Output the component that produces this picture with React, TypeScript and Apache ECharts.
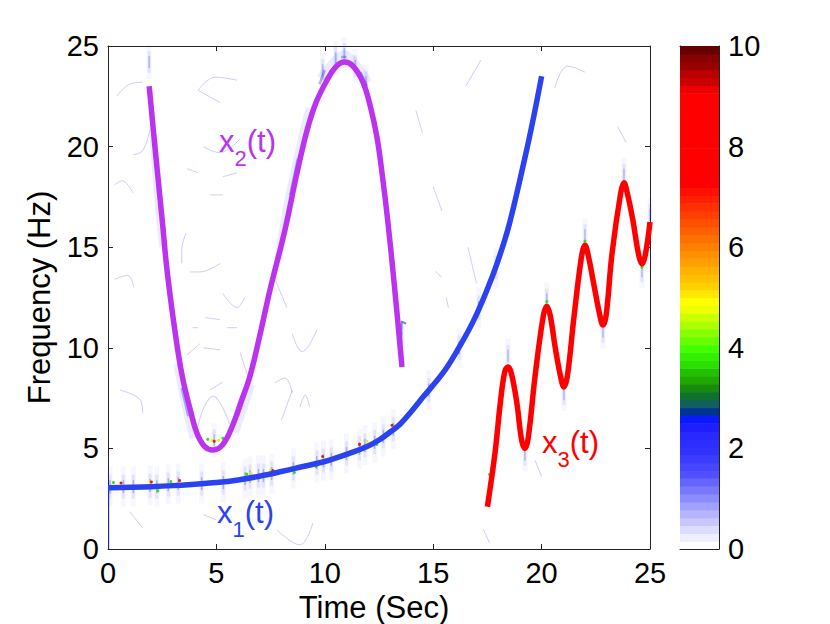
import React, { useEffect, useRef } from "react";
import * as echarts from "echarts";

const x1Curve = [[0,3.05],[1,3.07],[2,3.1],[3,3.15],[4,3.22],[5,3.3],[6,3.43],[7,3.62],[8,3.85],[9,4.1],[10,4.35],[11,4.7],[12,5.12],[12.55,5.45],[13,5.8],[13.47,6.2],[14,6.85],[14.53,7.55],[15.45,8.75],[16.1,9.85],[16.84,11.3],[17.48,12.87],[18,14.36],[18.5,16.1],[19.2,19.3],[19.6,21.3],[20,23.5]];
const x2Curve = [[1.9,23],[2.2,19.6],[2.5,16.35],[2.75,13.6],[3.2,10],[3.46,8.4],[3.8,6.9],[4.1,5.76],[4.45,5.1],[4.84,4.92],[5.3,5.2],[5.77,6.2],[6.1,7.2],[6.55,8.6],[7,10.6],[7.47,12.87],[8.16,15.85],[8.7,18.6],[9.18,20.8],[9.6,22.2],[10.1,23.3],[10.5,23.95],[10.9,24.2],[11.3,24],[11.76,23.2],[12.1,22],[12.4,20.5],[12.65,18.6],[12.9,16.35],[13.2,13.2],[13.56,9.05]];
const x3Curve = [[17.5,2.1],[17.85,4.77],[18.1,7.3],[18.3,8.8],[18.45,9.05],[18.6,8.75],[18.86,7.25],[19.08,5.4],[19.23,5],[19.38,5.5],[19.7,8.6],[20.08,11.6],[20.24,12.07],[20.4,11.6],[20.63,10],[20.87,8.6],[21.03,8.05],[21.19,8.6],[21.5,11.6],[21.85,14.6],[22,15.1],[22.15,14.6],[22.4,13.2],[22.68,11.65],[22.83,11.13],[22.98,11.65],[23.25,14.7],[23.65,17.7],[23.8,18.2],[23.95,17.7],[24.2,16.4],[24.48,14.6],[24.63,14.17],[24.78,14.6],[25,16.25]];

const x2Halos = [
  [[2.1,20.6],[2.3,17.6],[2.55,15]],
  [[3.2,9.2],[3.55,7.3],[3.95,5.5]],
  [[5.85,5.8],[6.25,7],[6.6,8.2]],
  [[7.85,14.4],[8.3,17.2],[8.95,20.4],[9.3,21.9]],
  [[9.8,23.4],[10.9,24.6],[12,23.2]],
];
const x2DarkSpots = [
  [[3.4,8],[3.7,6.6]],
  [[6,6.6],[6.3,7.6]],
  [[8.4,17.6],[8.75,19.4]],
  [[9.75,23.1],[10,23.8]],
  [[10.75,24.45],[11,24.45]],
  [[11.65,23.7],[11.95,23]],
];
const cupTrace = [[4.15,6.1],[4.45,7.1],[4.85,7.6],[5.3,7],[5.6,6.2]];

const faintTraces = [
  [[0.4,22.5],[1,23.1],[1.6,23.2]],
  [[1.15,19.6],[1.6,19.8],[1.95,20.9]],
  [[4.15,22.8],[4.95,23.45],[5.95,23.3]],
  [[4.15,22.8],[5.15,22.2]],
  [[0.3,18.1],[0.65,18.3],[1.15,17.7]],
  [[3.65,18.9],[4.15,18.7]],
  [[5.3,18.5],[5.95,18.7]],
  [[4.7,17.6],[5.3,17.6]],
  [[4.4,20],[5.15,19.7],[6.1,20.4]],
  [[1,1.85],[1.6,1.05]],
  [[4.4,1.7],[5,1.45]],
  [[7.8,0.95],[8.85,0.2],[9.45,1.3]],
  [[8,6.4],[8.5,7.9]],
  [[0.55,7.9],[1.5,7.4],[1.6,6.75]],
  [[0.3,13.4],[0.9,13.6],[1.2,13]],
  [[3.78,13.77],[4.24,13.77],[5.17,14.2]],
  [[3.4,14.2],[3.4,14.85],[3.6,15.7]],
  [[5.3,12.7],[5.95,12],[6.3,12.5]],
  [[3.9,11],[4.15,11]],
  [[4.4,10],[5.17,9.9]],
  [[3.64,9.65],[4.24,10.2]],
  [[4.47,11.5],[5.17,11.4]],
  [[5.5,11],[5.95,11]],
  [[6.1,9.75],[6.46,8.55]],
  [[4.7,7.9],[5.3,8.3]],
  [[7.7,13.4],[8.25,12]],
  [[8.5,10.7],[8.95,9.8],[9.64,10.9]],
  [[7.7,8.25],[8.16,8.5],[8.5,7.75]],
  [[8.85,7.05],[9.1,7.65],[9.3,7.05]],
  [[15.1,13.8],[15.4,13.5]],
  [[15.6,12.5],[15.7,12]],
  [[14.2,21.8],[14.5,20.7]],
  [[16.5,23],[17.2,24.3]],
  [[16.6,15],[17,13.2]],
  [[15,18],[15.4,16.8]],
  [[20.6,22.9],[21.2,24],[22,23.7]],
  [[23.5,21],[23.9,20.2]],
  [[19.7,4.4],[20,3.6]],
  [[17.3,1],[17.6,0.3]],
];
const x2EndTrace = [[13.5,10.3],[13.55,11.3],[13.75,11.2]];
const edgeTrace = [[0.03,0],[0.03,3]];

const x1Spikes = [[0.09,3.1],[0.71,3.1],[1.17,3.1],[1.94,3.15],[2.25,3.1],[2.78,3.2],[3.24,3.25],[4.32,3.25],[5.32,3.3],[6.32,3.5],[6.55,3.6],[6.94,3.65],[7.17,3.65],[7.55,3.75],[8.55,4],[9.63,4.3],[9.94,4.4],[10.3,4.45],[11,4.75],[11.6,5],[11.85,5.15],[12.3,5.3],[12.7,5.6],[13.16,5.95],[14.8,7.9],[16.2,10],[17.1,12],[17.9,14]];
const otherSpikes = [[1.9,24.2],[4.9,5.4],[9.9,23.8],[10.5,24.4],[10.9,24.6],[11.4,24],[11.9,23.2],[13.56,10.5],[17.6,2.8],[18.45,9.6],[19.23,4.7],[20.24,12.4],[21.03,7.7],[22,15.6],[22.83,10.8],[23.8,18.6],[24.63,13.8],[25,16.6]];
const hotSpotsRed = [[0.6,3.28],[2,3.33],[3.3,3.4],[7.6,3.9],[9.9,4.6],[11.6,5.2],[13.1,6.15],[4.9,5.35]];
const hotSpotsYellow = [[1.95,3.3],[6.6,3.75],[7.5,3.92],[10.3,4.55],[11.95,5.35],[4.8,5.4],[5.1,5.4]];
const hotSpotsGreen = [[0.25,3.3],[2.3,2.9],[2.9,3.35],[6.4,3.72],[8.6,3.8],[9.6,4.1],[12.4,5.2],[4.6,5.45],[5.3,5.5],[17.6,3.7],[20.24,12.3],[22,15.3],[23.8,17.8],[24.63,14]];

const xTicks = [0, 5, 10, 15, 20, 25];
const colorbarColors = [
  "#ffffff","#eeeeff","#dcdcff","#c8c8ff","#b4b4ff","#a0a0ff","#8c8cff","#7878ff",
  "#6464ff","#5050ff","#4646ff","#3c3cff","#3232ff","#2d2dff","#2828ff","#1e1eff",
  "#0a1aff","#003399","#106060","#107030","#188a10","#1fa800","#22c000","#2be000",
  "#33f000","#44ff00","#66ff00","#88ff00","#aaff00","#ccff00","#eeff00","#ffff00",
  "#ffe800","#ffd000","#ffc000","#ffb000","#ffa000","#ff9000","#ff8000","#ff7000",
  "#ff6000","#ff5000","#ff4000","#ff3000","#ff2000","#ff1000","#ff0000","#ff0000",
  "#ff0000","#ff0000","#ff0000","#ff0000","#ff0000","#ff0000","#ff0000","#ff0000",
  "#ff0000","#ff0000","#ee0000","#cc0000","#bb0000","#990000","#880000","#660000",
];

const FONT = '"Liberation Sans", Helvetica, Arial, sans-serif';
const BLUE = "#2b42f0";
const PURPLE = "#bb33ee";
const RED = "#ff0000";
const AXIS = "#222222";

const line = (data: number[][], color: string, width: number, opacity = 1, smooth: number | boolean = 0.35, z = 2) => ({
  type: "line", data, xAxisIndex: 0, yAxisIndex: 0, showSymbol: false, symbol: "none", smooth, z, silent: true,
  lineStyle: { color, width, opacity, cap: "butt", join: "round" },
});
const dots = (data: number[][], color: string, symbolSize: any, opacity = 1, symbol = "rect", z = 1) => ({
  type: "scatter", data, xAxisIndex: 0, yAxisIndex: 0, symbol, symbolSize, z, silent: true,
  itemStyle: { color, opacity },
});

const axisCommon = {
  axisLine: { show: true, onZero: false, lineStyle: { color: AXIS, width: 1 } },
  axisTick: { show: true, inside: true, length: 5, lineStyle: { color: AXIS, width: 1 } },
  splitLine: { show: false },
};
const labelStyle = { color: "#000", fontFamily: FONT, fontSize: 29 };
const nameStyle = { color: "#000", fontFamily: FONT, fontSize: 31 };

const mathLabel = (x: number, y: number, sub: string, color: string) => ({
  type: "text", x, y, silent: true,
  style: {
    text: `{m|x}{s|${sub}}{m|(t)}`,
    fill: color,
    font: `31px ${FONT}`,
    rich: {
      m: { fontFamily: FONT, fontSize: 31, fill: color, lineHeight: 56, verticalAlign: "middle" },
      s: { fontFamily: FONT, fontSize: 22, fill: color, lineHeight: 20, verticalAlign: "bottom" },
    },
  },
});

export default function App() {
  const ref = useRef<HTMLDivElement>(null);
  useEffect(() => {
    document.body.style.margin = "0";
    const chart = echarts.init(ref.current!, undefined, { renderer: "svg" });
    const colorbarData = colorbarColors.map((c, i) => [(i * 10) / 64, ((i + 1) * 10) / 64, i]);
    chart.setOption({
      animation: false,
      backgroundColor: "#fff",
      grid: [
        { left: 108, top: 46, width: 542, height: 503, containLabel: false, outerBoundsMode: "none" },
        { left: 680, top: 46, width: 39, height: 503, containLabel: false, outerBoundsMode: "none" },
      ],
      xAxis: [
        { ...axisCommon, type: "value", gridIndex: 0, min: 0, max: 25, interval: 5, position: "bottom",
          axisLabel: { ...labelStyle, margin: 9, formatter: (v: number) => (xTicks.includes(v) ? String(v) : "") },
          name: "Time (Sec)", nameLocation: "middle", nameGap: 42, nameTextStyle: { ...nameStyle, padding: [0, 10, 0, 0] } },
        { ...axisCommon, type: "value", gridIndex: 0, min: 0, max: 25, interval: 5, position: "top", axisLabel: { show: false } },
        { type: "value", gridIndex: 1, min: 0, max: 1, position: "bottom", axisLine: { show: true, onZero: false, lineStyle: { color: AXIS } }, axisTick: { show: false }, axisLabel: { show: false }, splitLine: { show: false } },
        { type: "value", gridIndex: 1, min: 0, max: 1, position: "top", axisLine: { show: true, onZero: false, lineStyle: { color: AXIS } }, axisTick: { show: false }, axisLabel: { show: false }, splitLine: { show: false } },
      ],
      yAxis: [
        { ...axisCommon, type: "value", gridIndex: 0, min: 0, max: 25, interval: 5, position: "left",
          axisLabel: { ...labelStyle, margin: 9 },
          name: "Frequency (Hz)", nameLocation: "middle", nameGap: 53, nameTextStyle: { ...nameStyle } },
        { ...axisCommon, type: "value", gridIndex: 0, min: 0, max: 25, interval: 5, position: "right", axisLabel: { show: false } },
        { ...axisCommon, type: "value", gridIndex: 1, min: 0, max: 10, interval: 2, position: "right",
          axisLabel: { ...labelStyle, margin: 9 } },
        { ...axisCommon, type: "value", gridIndex: 1, min: 0, max: 10, interval: 2, position: "left", axisLabel: { show: false } },
      ],
      series: [
        dots(x1Spikes, "#4858f0", [5, 40], 0.05),
        dots(otherSpikes, "#4858f0", [5, 34], 0.05),
        dots(x1Spikes, "#3848f0", [3, 24], 0.1),
        dots(otherSpikes, "#3848f0", [3, 22], 0.1),
        dots(x1Spikes, "#2030e0", [1.5, 13], 0.3),
        dots(otherSpikes, "#2030e0", [1.5, 12], 0.25),
        ...faintTraces.map((t) => line(t, "#5a5ae8", 1, 0.3, 0.4, 1)),
        line(edgeTrace, "#2030c0", 1.2, 0.7, false, 1),
        line(x2EndTrace, "#2030d0", 2, 0.6, false, 1),
        ...x2Halos.map((t) => line(t, "#5060f0", 8, 0.12, 0.3, 1)),
        ...x2DarkSpots.map((t) => line(t, "#2030d8", 2.5, 0.35, 0.3, 1)),
        line(cupTrace, "#8090e8", 1.2, 0.35, 0.4, 1),
        dots(hotSpotsGreen, "#33e000", 3, 1, "circle", 3),
        dots(hotSpotsYellow, "#f0f000", 3, 1, "circle", 3),
        dots(hotSpotsRed, "#e02000", 3, 1, "circle", 3),
        line(x1Curve, BLUE, 5.5, 1, 0.4, 4),
        line(x2Curve, PURPLE, 5.5, 1, 0.4, 5),
        line(x3Curve, RED, 5.5, 1, 0.4, 5),
        {
          type: "custom", xAxisIndex: 2, yAxisIndex: 2, coordinateSystem: "cartesian2d", data: colorbarData, silent: true, z: 1, clip: true,
          encode: { x: -1, y: [0, 1] },
          renderItem: (_p: any, api: any) => {
            const lo = api.coord([0, api.value(0)]);
            const hi = api.coord([1, api.value(1)]);
            return {
              type: "rect",
              shape: { x: lo[0], y: hi[1], width: hi[0] - lo[0], height: lo[1] - hi[1] + 0.6 },
              style: { fill: colorbarColors[api.value(2)] },
            };
          },
        },
      ],
      graphic: [
        mathLabel(217, 484.5, "1", BLUE),
        mathLabel(219, 113.5, "2", PURPLE),
        mathLabel(542, 414.5, "3", RED),
      ],
    });
    return () => chart.dispose();
  }, []);
  return <div ref={ref} style={{ width: 830, height: 624, position: "absolute", left: 0, top: 0 }} />;
}
